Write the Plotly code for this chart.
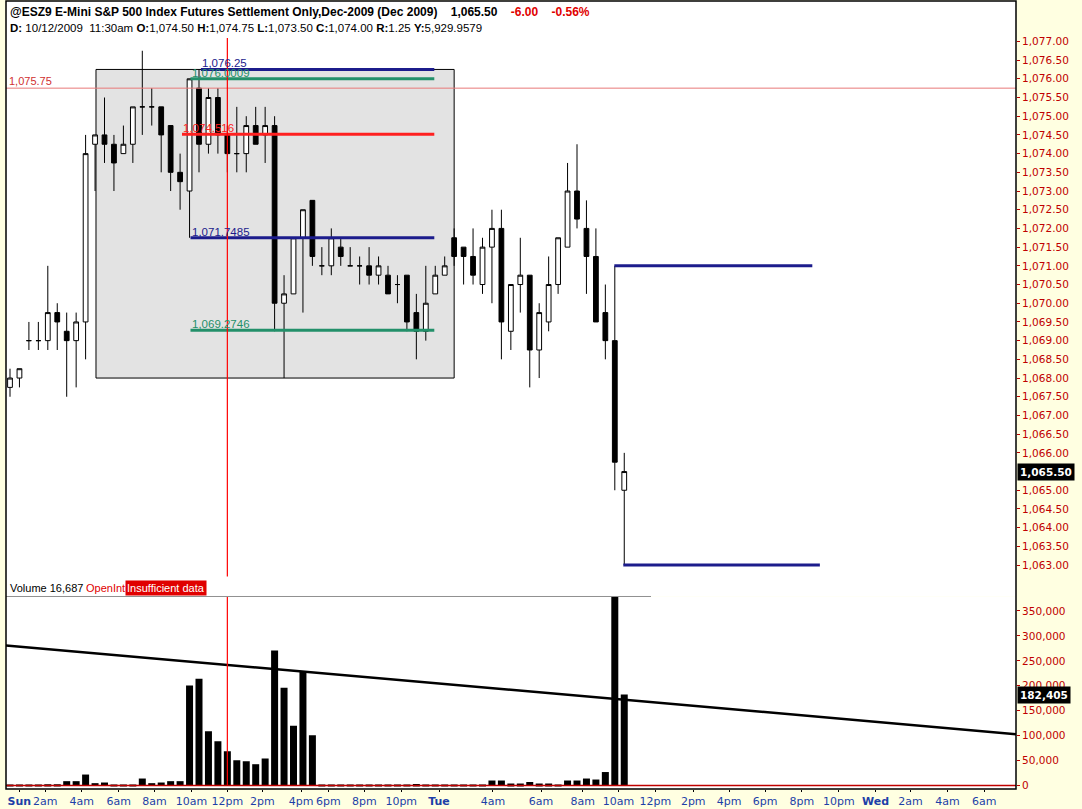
import plotly.graph_objects as go

# ---------------- data (30-minute bars, slot index) ----------------
bar_slot = list(range(66))
opens = [1067.75, 1068.0, 1069.0, 1069.0, 1069.0, 1069.75, 1069.25, 1069.0, 1069.5, 1074.25,
         1074.5, 1074.25, 1074.0, 1074.25, 1075.25, 1075.25, 1075.25, 1074.75, 1073.5, 1073.0,
         1075.75, 1074.25, 1075.5, 1074.5, 1074.0, 1074.0, 1074.75, 1074.5, 1074.75, 1070.0,
         1070.25, 1071.75, 1072.75, 1071.0, 1071.0, 1071.5, 1071.0, 1071.0, 1071.0, 1070.75,
         1070.75, 1070.5, 1070.75, 1069.75, 1069.25, 1070.25, 1070.75, 1071.75, 1071.5, 1071.25,
         1070.5, 1071.5, 1072.0, 1069.25, 1070.5, 1070.75, 1068.75, 1069.5, 1070.5, 1071.5,
         1073.0, 1072.0, 1071.25, 1069.75, 1069.0, 1065.0]
highs = [1068.25, 1068.25, 1069.5, 1069.5, 1071.0, 1070.0, 1069.75, 1069.75, 1074.5, 1074.5,
         1075.5, 1074.5, 1074.75, 1075.25, 1076.75, 1075.75, 1075.25, 1074.75, 1074.0, 1076.0,
         1076.25, 1075.75, 1075.75, 1074.75, 1075.25, 1075.0, 1075.25, 1075.25, 1075.0, 1070.75,
         1071.75, 1072.5, 1072.75, 1071.5, 1072.0, 1071.75, 1071.5, 1071.25, 1071.5, 1071.25,
         1071.0, 1070.75, 1070.75, 1070.25, 1071.0, 1071.0, 1071.25, 1072.0, 1071.5, 1072.0,
         1071.75, 1072.5, 1072.5, 1070.5, 1071.75, 1070.75, 1070.0, 1071.25, 1071.75, 1073.75,
         1074.25, 1072.75, 1072.0, 1070.5, 1071.0, 1066.0]
lows = [1067.5, 1067.75, 1068.75, 1068.75, 1068.75, 1068.75, 1067.5, 1067.75, 1068.5, 1073.0,
        1073.75, 1073.0, 1074.0, 1073.75, 1074.5, 1074.75, 1073.5, 1073.0, 1072.5, 1071.75,
        1073.5, 1074.0, 1074.0, 1073.5, 1073.5, 1073.5, 1074.25, 1073.75, 1069.25, 1068.0,
        1070.25, 1069.75, 1071.0, 1070.75, 1070.75, 1071.0, 1071.0, 1070.5, 1070.5, 1070.5,
        1070.25, 1070.0, 1069.25, 1068.5, 1069.0, 1070.25, 1070.75, 1071.0, 1070.5, 1070.5,
        1070.25, 1070.0, 1068.5, 1068.75, 1069.75, 1067.75, 1068.0, 1069.25, 1070.25, 1071.5,
        1072.0, 1070.25, 1069.5, 1068.5, 1065.0, 1063.0]
closes = [1068.0, 1068.25, 1069.0, 1069.0, 1069.75, 1069.5, 1069.0, 1069.5, 1074.0, 1074.5,
          1074.25, 1073.75, 1074.25, 1075.25, 1075.25, 1075.25, 1074.5, 1073.5, 1073.25, 1076.0,
          1074.25, 1075.5, 1074.5, 1074.0, 1074.0, 1074.75, 1074.25, 1074.75, 1070.0, 1070.25,
          1071.75, 1072.5, 1071.25, 1071.0, 1071.75, 1071.25, 1071.0, 1071.0, 1070.75, 1071.0,
          1070.25, 1070.5, 1069.5, 1069.25, 1070.0, 1070.75, 1071.0, 1071.25, 1071.25, 1070.75,
          1071.5, 1072.0, 1069.5, 1070.5, 1070.75, 1068.75, 1069.75, 1070.5, 1071.75, 1073.0,
          1072.25, 1071.25, 1069.5, 1069.0, 1065.75, 1065.5]
volumes = [1500, 1500, 1500, 1500, 2500, 2500, 8700, 8700, 22000, 4700,
           6000, 2000, 2000, 2000, 14000, 4700, 6000, 8700, 8700, 200700,
           214000, 108700, 88700, 68700, 50700, 48700, 42700, 54000, 270700, 196000,
           120000, 229000, 100700, 1500, 1500, 1500, 1500, 1500, 1500, 1500,
           1500, 1500, 1500, 3000, 1500, 1500, 1500, 1500, 1500, 2000,
           2000, 10000, 10000, 4000, 4000, 7000, 4000, 4000, 2000, 10000,
           10000, 14000, 12000, 27000, 385000, 182405]

last_price = 1065.50
last_volume = 182405
crosshair_slot = 23
ref_level = 1075.75

fib_levels = [1076.25, 1076.0009, 1074.516, 1071.7485, 1069.2746]
fib_labels = ["1,076.25", "1,076.0009", "1,074.516", "1,071.7485", "1,069.2746"]
fib_colors = ["#1c1c8c", "#23906a", "#ff2020", "#1c1c8c", "#23906a"]
fib_start = [20.2, 19.1, 18.2, 19.1, 19.1]
fib_end = 44.9

box_slots = [9.1, 47.0]
box_prices = [1068.0, 1076.25]

proj_levels = [1071.0, 1063.0]
proj_start = [63.95, 64.9]
proj_end = [84.9, 85.7]

trend_slots = [-0.42, 106.46]
trend_volume = [280700, 103000]

x_tick_slots = [0.99, 3.72, 7.58, 11.5, 15.3, 19.2, 23.0, 26.7, 30.8, 33.7, 37.5, 41.4, 45.4,
                51.1, 56.2, 60.6, 64.4, 68.3, 72.3, 76.1, 79.9, 83.8, 87.7, 91.6, 95.3, 99.2, 103.1]
x_tick_text = ["<b>Sun</b>", "2am", "4am", "6am", "8am", "10am", "12pm", "2pm", "4pm", "6pm",
               "8pm", "10pm", "<b>Tue</b>", "4am", "6am", "8am", "10am", "12pm", "2pm", "4pm",
               "6pm", "8pm", "10pm", "<b>Wed</b>", "2am", "4am", "6am"]
price_ticks = [1063.0 + 0.5 * i for i in range(29)]
volume_ticks = [0, 50000, 100000, 150000, 200000, 250000, 300000, 350000]

# ---------------- layout helpers ----------------
W, H = 1082, 809
L, R, T, B = 6, 1016, 1, 791
SPLIT = 598


def px(x):
    return (x - L) / (R - L)


def py(y):
    return (B - y) / (B - T)


AXFONT = "DejaVu Sans"
RED = "#c00000"
BLUE = "#1d3fa8"

fig = go.Figure()

# candles
fig.add_trace(go.Candlestick(
    x=bar_slot, open=opens, high=highs, low=lows, close=closes,
    increasing=dict(line=dict(color="black", width=1), fillcolor="white"),
    decreasing=dict(line=dict(color="black", width=1), fillcolor="black"),
    whiskerwidth=0, xaxis="x2", yaxis="y", hoverinfo="skip", showlegend=False))

# fib lines
for lvl, col, x0 in zip(fib_levels, fib_colors, fib_start):
    fig.add_trace(go.Scatter(x=[x0, fib_end], y=[lvl, lvl], mode="lines",
                             line=dict(color=col, width=3), xaxis="x2", yaxis="y",
                             hoverinfo="skip", showlegend=False))
# projection lines
for lvl, x0, x1 in zip(proj_levels, proj_start, proj_end):
    fig.add_trace(go.Scatter(x=[x0, x1], y=[lvl, lvl], mode="lines",
                             line=dict(color="#1c1c8c", width=3), xaxis="x2", yaxis="y",
                             hoverinfo="skip", showlegend=False))

# volume
fig.add_trace(go.Bar(x=bar_slot, y=volumes, marker=dict(color="black", line=dict(width=0)),
                     width=0.74, xaxis="x", yaxis="y2", hoverinfo="skip", showlegend=False))
fig.add_trace(go.Scatter(x=trend_slots, y=trend_volume, mode="lines",
                         line=dict(color="black", width=2.5), xaxis="x", yaxis="y2",
                         hoverinfo="skip", showlegend=False))

dom_split = py(SPLIT)
xr = [(L - 10) / 9.45, (R - 10) / 9.45]

fig.update_layout(
    width=W, height=H,
    margin=dict(l=L, r=W - R, t=T, b=H - B, pad=0),
    paper_bgcolor="#ffffe1", plot_bgcolor="white",
    boxgap=0.28,
    showlegend=False,
    xaxis=dict(domain=[0, 1], anchor="y2", range=xr, tickvals=x_tick_slots, ticktext=x_tick_text,
               tickfont=dict(family=AXFONT, size=11, color=BLUE), ticks="outside", ticklen=2,
               tickcolor="black", showline=False, showgrid=False, zeroline=False, tickangle=0),
    xaxis2=dict(domain=[0, 1], anchor="y", matches="x", range=xr, showticklabels=False,
                showgrid=False, zeroline=False, showline=False, ticks="",
                rangeslider=dict(visible=False)),
    yaxis=dict(domain=[dom_split, 1], anchor="x2", side="right",
               range=[1063 + (566.5 - SPLIT) / 37.5, 1063 + (566.5 - T) / 37.5],
               tickvals=[v for v in price_ticks if v != last_price],
               ticktext=["{:,.2f}".format(v) for v in price_ticks if v != last_price],
               tickfont=dict(family=AXFONT, size=10.5, color=RED), ticks="outside", ticklen=3,
               tickcolor=RED, showgrid=False, zeroline=False, showline=False),
    yaxis2=dict(domain=[0, dom_split], anchor="x", side="right",
                range=[-(B - 787.5) / 0.0005, (787.5 - SPLIT) / 0.0005],
                tickvals=volume_ticks, ticktext=["{:,}".format(v) for v in volume_ticks],
                tickfont=dict(family=AXFONT, size=10.5, color=RED), ticks="outside", ticklen=3,
                tickcolor=RED, showgrid=False, zeroline=False, showline=False),
)

shapes = []
# grey shaded box
shapes.append(dict(type="rect", xref="x2", yref="y", x0=box_slots[0], x1=box_slots[1],
                   y0=box_prices[0], y1=box_prices[1], fillcolor="#e3e3e3",
                   line=dict(color="black", width=1), layer="below"))
# reference level
shapes.append(dict(type="line", xref="x2 domain", yref="y", x0=0, x1=1, y0=ref_level, y1=ref_level,
                   line=dict(color="#e87878", width=1)))
# crosshair
shapes.append(dict(type="line", xref="x2", yref="paper", x0=crosshair_slot, x1=crosshair_slot,
                   y0=py(578), y1=py(38), line=dict(color="#ff0000", width=1.2)))
shapes.append(dict(type="line", xref="x", yref="paper", x0=crosshair_slot, x1=crosshair_slot,
                   y0=py(787), y1=py(SPLIT), line=dict(color="#ff0000", width=1.2)))
# zero line of volume
shapes.append(dict(type="line", xref="x domain", yref="y2", x0=0, x1=1, y0=0, y1=0,
                   line=dict(color="#c00000", width=1.5)))
# panel separator
shapes.append(dict(type="line", xref="paper", yref="paper", x0=0, x1=px(651), y0=py(SPLIT),
                   y1=py(SPLIT), line=dict(color="#909090", width=1)))
# frame
shapes.append(dict(type="rect", xref="paper", yref="paper", x0=0, x1=1, y0=0, y1=1,
                   line=dict(color="black", width=1.5)))
fig.update_layout(shapes=shapes)

ann = []
NB = "\u00a0"
ann.append(dict(xref="paper", yref="paper", x=px(8), y=py(12), xanchor="left", yanchor="middle",
                showarrow=False,
                text="<b>@ESZ9 E-Mini S&P 500 Index Futures Settlement Only,Dec-2009 (Dec 2009)"
                     + NB * 4 + "1,065.50" + NB * 4
                     + "<span style='color:#e00000'>-6.00" + NB * 4 + "-0.56%</span></b>",
                font=dict(family="Liberation Sans", size=12, color="black")))
ann.append(dict(xref="paper", yref="paper", x=px(8), y=py(28), xanchor="left", yanchor="middle",
                showarrow=False,
                text="<b>D:</b> 10/12/2009" + NB * 2 + "11:30am <b>O:</b>1,074.50 <b>H:</b>1,074.75 "
                     "<b>L:</b>1,073.50 <b>C:</b>1,074.00 <b>R:</b>1.25 <b>Y:</b>5,929.9579",
                font=dict(family="Liberation Sans", size=11.5, color="black")))
# reference level label
ann.append(dict(xref="paper", yref="y", x=px(7), y=ref_level, xanchor="left", yanchor="bottom",
                showarrow=False, text="1,075.75", yshift=-1,
                font=dict(family="Liberation Sans", size=11, color="#d03030")))
# fib labels
for lvl, lab, col, x0 in zip(fib_levels, fib_labels, fib_colors, fib_start):
    ann.append(dict(xref="x2", yref="y", x=x0, y=lvl, xanchor="left", yanchor="bottom",
                    showarrow=False, text=lab, yshift=-2, xshift=-1,
                    font=dict(family="Liberation Sans", size=11.5, color=col)))
# last value boxes
ann.append(dict(xref="paper", yref="y", x=1, y=last_price, xanchor="left", yanchor="middle",
                showarrow=False, text="<b>{:,.2f}</b>".format(last_price), xshift=1,
                bgcolor="black", borderpad=2,
                font=dict(family=AXFONT, size=10.5, color="white")))
ann.append(dict(xref="paper", yref="y2", x=1, y=last_volume, xanchor="left", yanchor="middle",
                showarrow=False, text="<b>{:,}</b>".format(last_volume), xshift=1,
                bgcolor="black", borderpad=2,
                font=dict(family=AXFONT, size=10.5, color="white")))
# volume header
ann.append(dict(xref="paper", yref="paper", x=px(8), y=py(589), xanchor="left", yanchor="middle",
                showarrow=False, text="Volume 16,687",
                font=dict(family="Liberation Sans", size=11, color="black")))
ann.append(dict(xref="paper", yref="paper", x=px(84), y=py(589), xanchor="left", yanchor="middle",
                showarrow=False, text="OpenInt",
                font=dict(family="Liberation Sans", size=11, color="#e00000")))
ann.append(dict(xref="paper", yref="paper", x=px(125), y=py(589), xanchor="left", yanchor="middle",
                showarrow=False, text="Insufficient data", bgcolor="#e00000", borderpad=1,
                font=dict(family="Liberation Sans", size=11, color="white")))
fig.update_layout(annotations=ann)

fig.write_html("out.html", config={"displayModeBar": False},
               post_script="document.body.style.margin='0px';")
